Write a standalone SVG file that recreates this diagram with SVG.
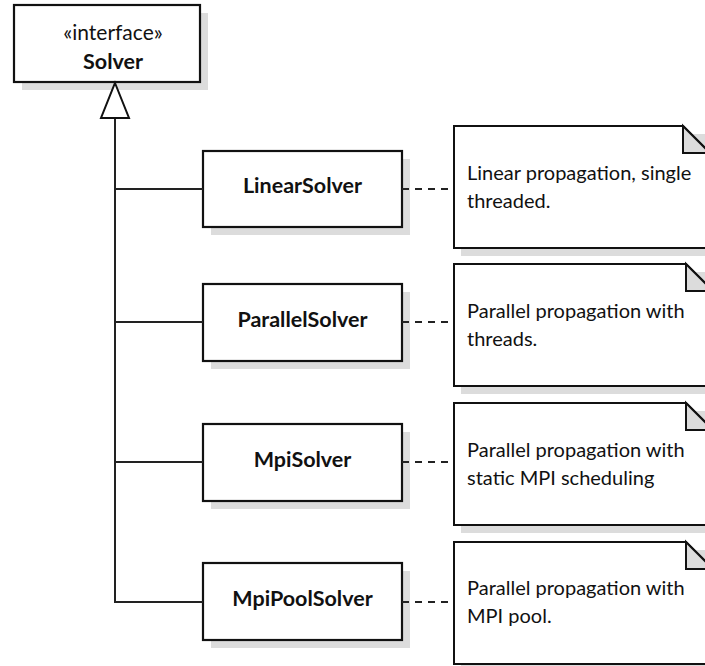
<svg xmlns="http://www.w3.org/2000/svg" width="705" height="666" viewBox="0 0 705 666">
  <style>
    .shadow { fill: #dcdcdc; stroke: none; }
    .cls { fill: #ffffff; stroke: #111111; stroke-width: 2.2; }
    .note { fill: #ffffff; stroke: #111111; stroke-width: 2; }
    .fold { fill: #dcdcdc; stroke: #111111; stroke-width: 2; stroke-linejoin: miter; }
    .name { font-family: Lato, "Open Sans", sans-serif; font-weight: bold; font-size: 21.5px; fill: #111111; text-anchor: middle; }
    .stereo { font-family: Lato, "Open Sans", sans-serif; font-size: 21px; fill: #111111; text-anchor: middle; }
    .txt { font-family: Lato, "Open Sans", sans-serif; font-size: 20px; fill: #111111; }
    .line { fill: none; stroke: #222222; stroke-width: 2; }
    .dash { fill: none; stroke: #222222; stroke-width: 2; stroke-dasharray: 7 6; }
    .gen { fill: #ffffff; stroke: #111111; stroke-width: 2; stroke-linejoin: miter; }
  </style>

  <!-- Interface -->
  <g id="solver">
    <rect class="shadow" x="22" y="13" width="186" height="77"/>
    <rect class="cls" x="14" y="5" width="186" height="77"/>
    <text class="stereo" x="113" y="40">«interface»</text>
    <text class="name" x="113" y="69">Solver</text>
  </g>

  <!-- Implementations -->
  <g id="linear-solver">
    <rect class="shadow" x="211" y="159" width="199" height="76"/>
    <rect class="cls" x="203" y="151" width="199" height="76"/>
    <text class="name" x="302.5" y="193">LinearSolver</text>
  </g>
  <g id="parallel-solver">
    <rect class="shadow" x="211" y="292" width="199" height="77"/>
    <rect class="cls" x="203" y="284" width="199" height="77"/>
    <text class="name" x="302.5" y="327">ParallelSolver</text>
  </g>
  <g id="mpi-solver">
    <rect class="shadow" x="211" y="432" width="199" height="77"/>
    <rect class="cls" x="203" y="424" width="199" height="77"/>
    <text class="name" x="302.5" y="467">MpiSolver</text>
  </g>
  <g id="mpi-pool-solver">
    <rect class="shadow" x="211" y="571" width="199" height="77"/>
    <rect class="cls" x="203" y="563" width="199" height="77"/>
    <text class="name" x="302.5" y="606">MpiPoolSolver</text>
  </g>

  <!-- Notes -->
  <g id="note-linear">
    <rect class="shadow" x="461" y="134" width="260" height="122"/>
    <path class="note" d="M454,126 H683 L710,153 V248 H454 Z"/>
    <path class="fold" d="M683,126 V153 H710 Z"/>
    <text class="txt" x="467" y="180">Linear propagation, single</text>
    <text class="txt" x="467" y="208">threaded.</text>
  </g>
  <g id="note-parallel">
    <rect class="shadow" x="461" y="272" width="260" height="122"/>
    <path class="note" d="M454,264 H686 L713,291 V386 H454 Z"/>
    <path class="fold" d="M686,264 V291 H713 Z"/>
    <text class="txt" x="467" y="318">Parallel propagation with</text>
    <text class="txt" x="467" y="346">threads.</text>
  </g>
  <g id="note-mpi">
    <rect class="shadow" x="461" y="411" width="260" height="122"/>
    <path class="note" d="M454,403 H686 L713,430 V525 H454 Z"/>
    <path class="fold" d="M686,403 V430 H713 Z"/>
    <text class="txt" x="467" y="457">Parallel propagation with</text>
    <text class="txt" x="467" y="485">static MPI scheduling</text>
  </g>
  <g id="note-mpi-pool">
    <rect class="shadow" x="461" y="550" width="260" height="122"/>
    <path class="note" d="M454,542 H686 L713,569 V664 H454 Z"/>
    <path class="fold" d="M686,542 V569 H713 Z"/>
    <text class="txt" x="467" y="595">Parallel propagation with</text>
    <text class="txt" x="467" y="623">MPI pool.</text>
  </g>

  <!-- Connectors -->
  <g id="connectors">
    <path class="line" d="M115,118 V602 H203"/>
    <path class="line" d="M115,189 H203"/>
    <path class="line" d="M115,322 H203"/>
    <path class="line" d="M115,462 H203"/>
    <path class="gen" d="M115,83 L129,118 H101 Z"/>
    <path class="dash" d="M402,189 H454"/>
    <path class="dash" d="M402,322 H454"/>
    <path class="dash" d="M402,462 H454"/>
    <path class="dash" d="M402,602 H454"/>
  </g>
</svg>
